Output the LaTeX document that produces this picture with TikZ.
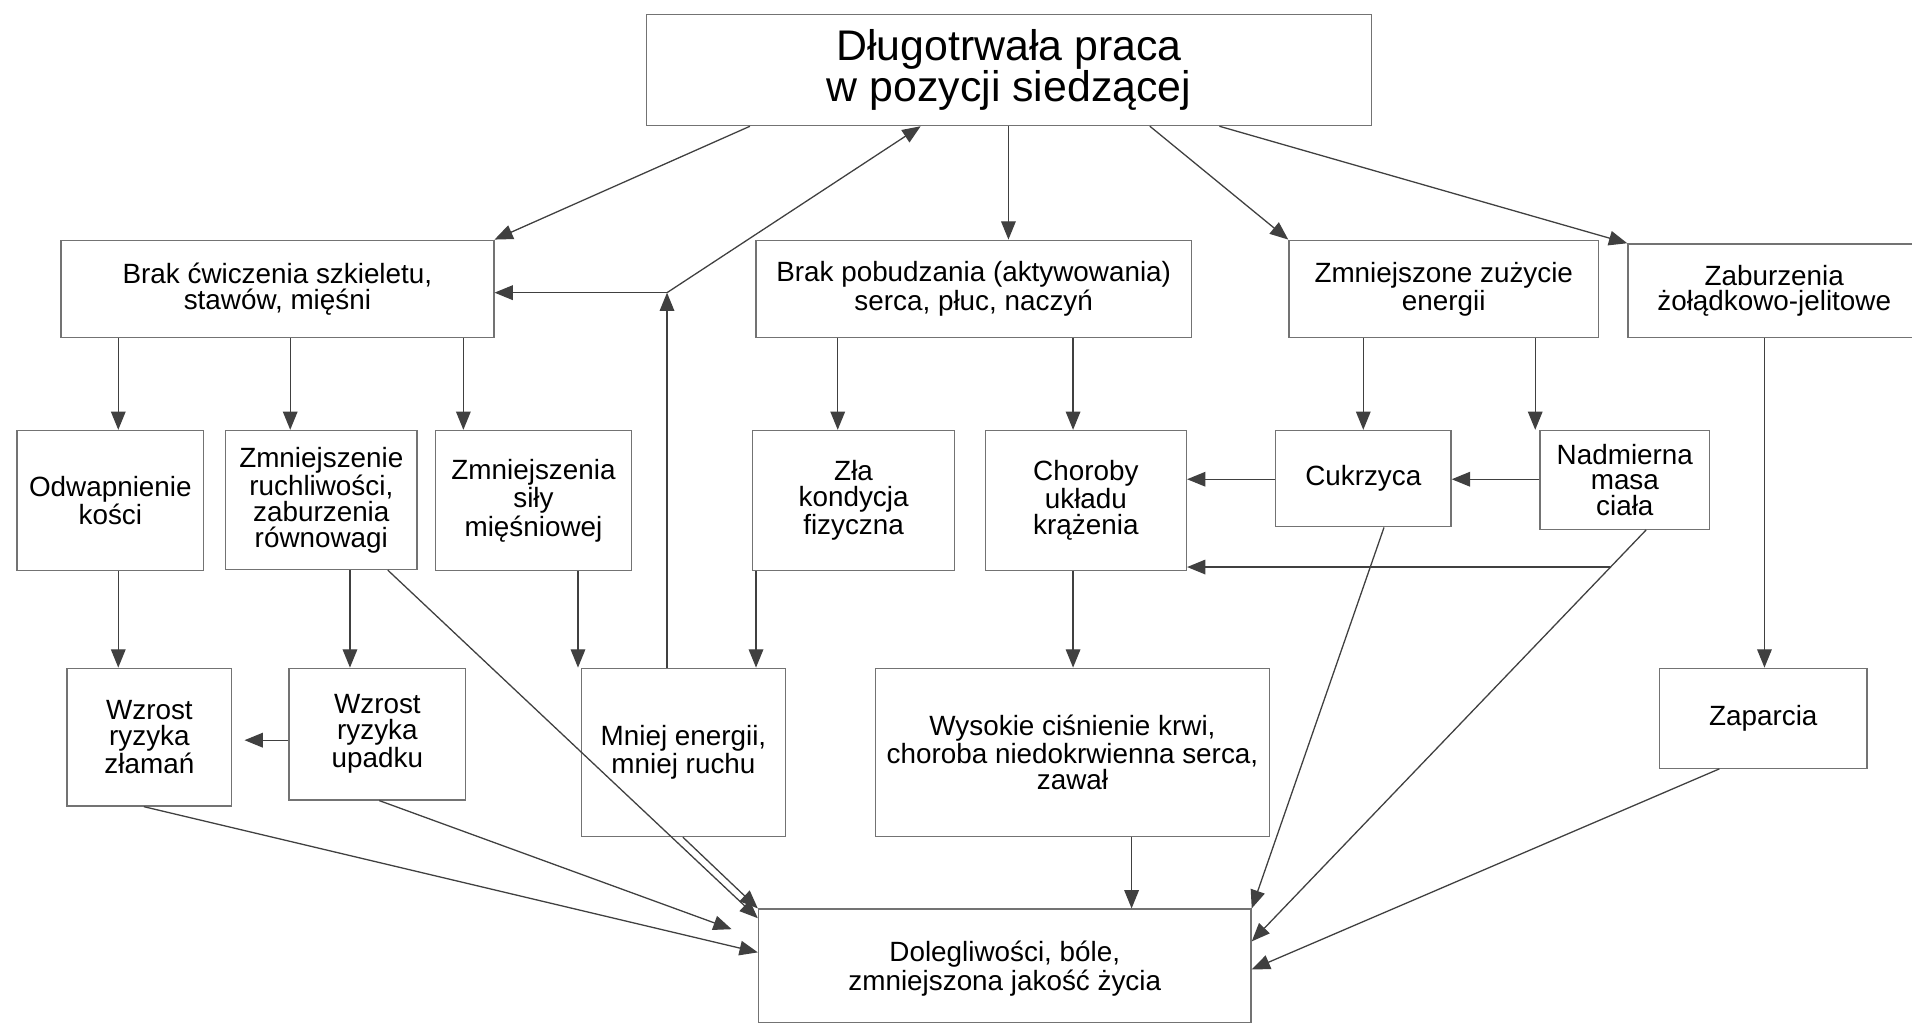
\documentclass[tikz,border=0pt]{standalone}
\usepackage{fontspec}
\setmainfont{Liberation Sans}
\usetikzlibrary{arrows.meta}
\begin{document}
\begin{tikzpicture}[x=0.02cm,y=-0.02cm,
  box/.style={draw=black!55, line width=0.6pt, fill=white, align=center, inner sep=2pt, font=\fontsize{13}{12}\selectfont},
  sz/.style 2 args={minimum width=#1*0.02cm, minimum height=#2*0.02cm},
  arr/.style={draw=black!75, line width=0.6pt, -{Triangle[length=0.3cm,width=0.24cm]}}]
\useasboundingbox[fill=white] (0,0) rectangle (1568,840);

% top
\node[box, sz={595}{91}, font=\fontsize{20}{19}\selectfont] (T) at (827.5,57.5) {Długotrwała praca\\w pozycji siedzącej};

% row 2
\node[box, sz={355}{80}] (B1) at (227.5,237) {Brak ćwiczenia szkieletu,\\stawów, mięśni};
\node[box, sz={357}{80}] (B2) at (798.5,237) {Brak pobudzania (aktywowania)\\serca, płuc, naczyń};
\node[box, sz={254}{80}] (B3) at (1184,237) {Zmniejszone zużycie\\energii};
\node[box, sz={240}{77}] (B4) at (1455,238.5) {Zaburzenia\\żołądkowo-jelitowe};

% row 3
\node[box, sz={153}{115}] (C1) at (90.5,410.5) {Odwapnienie\\kości};
\node[box, sz={157}{114}] (C2) at (263.5,410) {Zmniejszenie\\ruchliwości,\\zaburzenia\\równowagi};
\node[box, sz={161}{115}] (C3) at (437.5,410.5) {Zmniejszenia\\siły\\mięśniowej};
\node[box, sz={166}{115}] (C4) at (700,410.5) {Zła\\kondycja\\fizyczna};
\node[box, sz={165}{115}] (C5) at (890.5,410.5) {Choroby\\układu\\krążenia};
\node[box, sz={144}{79}] (C6) at (1118,392.5) {Cukrzyca};
\node[box, sz={139}{81}] (C7) at (1332.5,393.5) {Nadmierna\\masa\\ciała};

% row 4
\node[box, sz={135}{113}] (D1) at (122.5,604.5) {Wzrost\\ryzyka\\złamań};
\node[box, sz={145}{108}] (D2) at (309.5,602) {Wzrost\\ryzyka\\upadku};
\node[box, sz={167}{138}] (D3) at (560.5,617) {Mniej energii,\\mniej ruchu};
\node[box, sz={323}{138}] (D4) at (879.5,617) {Wysokie ciśnienie krwi,\\choroba niedokrwienna serca,\\zawał};
\node[box, sz={170}{82}] (D5) at (1446,589) {Zaparcia};

% bottom
\node[box, sz={404}{93}, text depth=-0.1cm] (E) at (824,792) {Dolegliwości, bóle,\\zmniejszona jakość życia};

% connectors from top
\draw[arr] (T.south -| 615,0) -- (B1.north east);
\draw[arr] (T.south -| 827,0) -- (B2.north -| 827,0);
\draw[arr] (T.south -| 943,0) -- (B3.north west);
\draw[arr] (T.south -| 1000,0) -- (B4.north west);

% feedback from D3
\coordinate (J) at (547,240);
\draw[arr] (D3.north -| J) -- (J);
\draw[arr] (J) -- (B1.east |- J);
\draw[arr] (J) -- (T.south -| 755,0);

% row 2 -> row 3
\draw[arr] (B1.south -| 97,0) -- (C1.north -| 97,0);
\draw[arr] (B1.south -| 238,0) -- (C2.north -| 238,0);
\draw[arr] (B1.south -| 380,0) -- (C3.north -| 380,0);
\draw[arr] (B2.south -| 687,0) -- (C4.north -| 687,0);
\draw[arr] (B2.south -| 880,0) -- (C5.north -| 880,0);
\draw[arr] (B3.south -| 1118,0) -- (C6.north -| 1118,0);
\draw[arr] (B3.south -| 1259,0) -- (C7.north -| 1259,0);
\draw[arr] (B4.south -| 1447,0) -- (D5.north -| 1447,0);

% row 3 horizontals
\draw[arr] (C6.west |- 0,393) -- (C5.east |- 0,393);
\draw[arr] (C7.west |- 0,393) -- (C6.east |- 0,393);
\coordinate (K) at (1320,465);
\draw[arr] (K) -- (C5.east |- K);

% row 3 -> row 4
\draw[arr] (C1.south -| 97,0) -- (D1.north -| 97,0);
\draw[arr] (C2.south -| 287,0) -- (D2.north -| 287,0);
\draw[arr] (C3.south -| 474,0) -- (D3.north -| 474,0);
\draw[arr] (C4.south -| 620,0) -- (D3.north -| 620,0);
\draw[arr] (C5.south -| 880,0) -- (D4.north -| 880,0);
\draw[arr, shorten >=0.2cm] (D2.west |- 0,607) -- (D1.east |- 0,607);

% into E
\coordinate (eD2) at (600,762);
\draw[arr] (D1.south -| 118,0) -- (E.west |- 0,781);
\draw[arr] (D2.south -| 311,0) -- (eD2);
\draw[arr] (C2.south -| 318,0) -- (E.west |- 0,753);
\draw[arr] (D3.south -| 560,0) -- (E.north west);
\draw[arr] (D4.south -| 928,0) -- (E.north -| 928,0);
\draw[arr] (C6.south -| 1135,0) -- (E.north east);
\draw[arr] (C7.south -| 1350,0) -- (E.east |- 0,772);
\draw[arr] (D5.south -| 1410,0) -- (E.east |- 0,795);
\end{tikzpicture}
\end{document}
